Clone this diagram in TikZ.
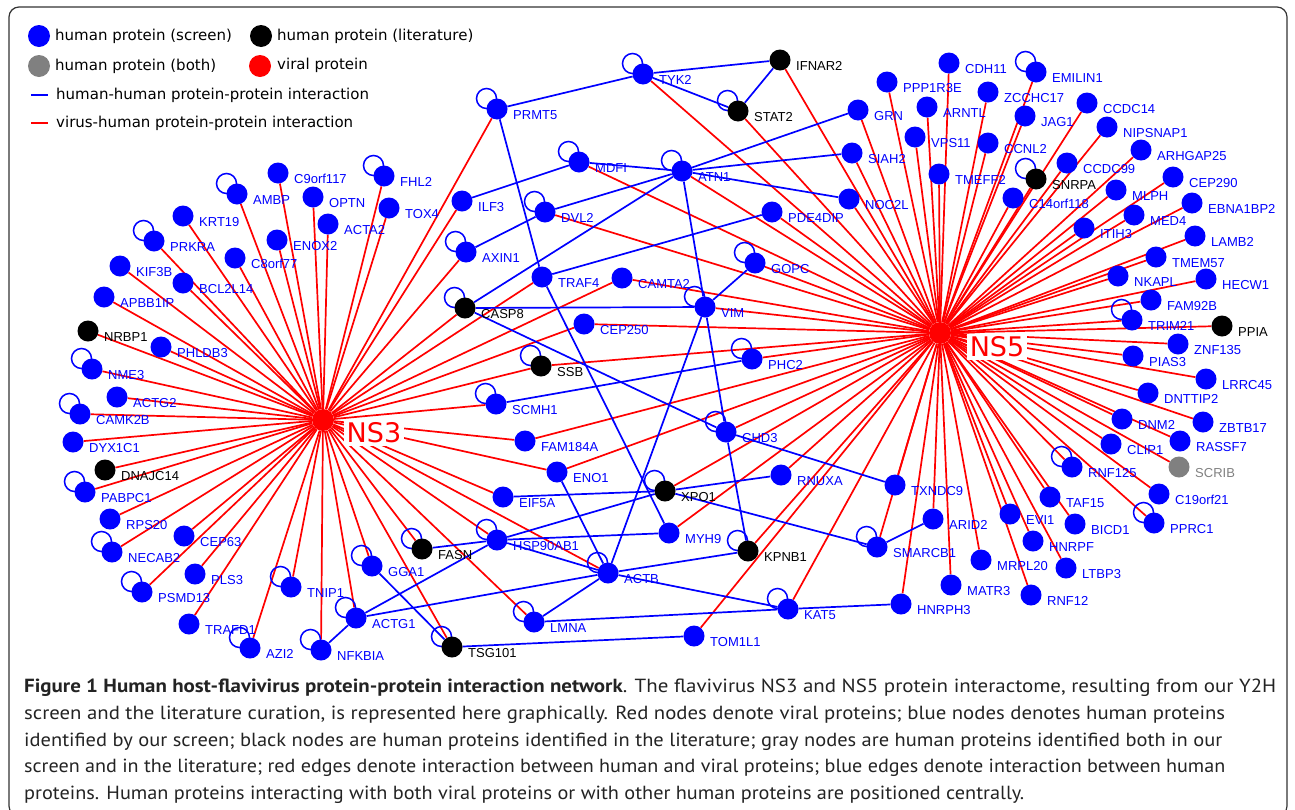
\documentclass[tikz,border=0pt]{standalone}
\usepackage{fontspec}
\usepackage{graphicx}
\newfontfamily\labfont{Liberation Sans}
\newfontfamily\legfont{DejaVu Sans}
\newfontfamily\capfont{PT Sans}
\pgfdeclarelayer{edges}
\pgfdeclarelayer{loops}
\pgfsetlayers{edges,loops,main}
\definecolor{midgray}{RGB}{128,128,128}
\definecolor{captxt}{RGB}{35,35,35}
\tikzset{
  hb/.style={circle, fill=blue, draw=none, minimum size=21pt, inner sep=0pt},
  hk/.style={hb, fill=black},
  hg/.style={hb, fill=midgray},
  vir/.style={circle, fill=red, draw=none, minimum size=22pt, inner sep=0pt},
  labhb/.style={anchor=west, inner sep=0pt, text=blue, font=\labfont\fontsize{13}{13}\selectfont},
  labhk/.style={labhb, text=black},
  labhg/.style={labhb, text=midgray},
  virlab/.style={fill=white, text=red, inner sep=3pt, font=\legfont\fontsize{27}{27}\selectfont},
  legtext/.style={anchor=west, inner sep=0pt, font=\legfont\fontsize{15}{15}\selectfont},
  captext/.style={anchor=base west, inner sep=0pt, text=captxt, font=\capfont\fontsize{19}{19}\selectfont},
  redE/.style={draw=red, line width=1.7pt},
  blueE/.style={draw=blue, line width=1.7pt},
  loopE/.style={draw=blue, line width=1.5pt},
}
\newcommand\hp[4]{\node[h#4] (#1) at (#2,#3) {};\node[labh#4] (l#1) at (#2+16,#3+6) {#1};}
\newcommand\lp[1]{\draw[loopE] ([shift={(-10.5,-10.5)}]#1.center) circle[radius=10pt];}
\begin{document}
\begin{tikzpicture}[x=1pt,y=-1pt]
\useasboundingbox (0,0) rectangle (1295,809);
\clip (0,0) rectangle (1295,809);
\draw[line width=1.2pt, black!80, rounded corners=10pt] (9,7) rectangle (1287,816);
% legend
\node[hb, minimum size=22pt] (lg1) at (39,36) {};
\node[legtext] (lt1) at (55,36) {human protein (screen)};
\node[hk, minimum size=22pt] (lg2) at (261,36) {};
\node[legtext] (lt2) at (277,36) {human protein (literature)};
\node[hg, minimum size=22pt] (lg3) at (39,66) {};
\node[legtext] (lt3) at (55,66) {human protein (both)};
\node[vir] (lg4) at (260,66) {};
\node[legtext] (lt4) at (277,65) {viral protein};
\coordinate (lb1) at (31,95); \coordinate (lb2) at (48,95);
\draw[blueE] (lb1) -- (lb2);
\node[legtext] (lt5) at (56,95) {human-human protein-protein interaction};
\coordinate (lr1) at (31,123); \coordinate (lr2) at (48,123);
\draw[redE] (lr1) -- (lr2);
\node[legtext] (lt6) at (56,123) {virus-human protein-protein interaction};
% viral hubs
\node[vir] (NS3) at (323,420) {};
\node[vir] (NS5) at (940,333) {};
% NS3 side
\hp{C9orf117}{278}{173}{b}
\hp{FHL2}{384}{176}{b}
\hp{AMBP}{237}{194}{b}
\hp{OPTN}{313}{197}{b}
\hp{TOX4}{389}{208}{b}
\hp{ACTA2}{328}{224}{b}
\hp{KRT19}{183}{216}{b}
\hp{PRKRA}{154}{241}{b}
\hp{ENOX2}{277}{240}{b}
\hp{C8orf77}{235}{258}{b}
\hp{KIF3B}{120}{266}{b}
\hp{BCL2L14}{183}{283}{b}
\hp{APBB1IP}{104}{297}{b}
\hp{NRBP1}{88}{331}{k}
\hp{PHLDB3}{161}{347}{b}
\hp{NME3}{92}{369}{b}
\hp{ACTG2}{117}{397}{b}
\hp{CAMK2B}{80}{414}{b}
\hp{DYX1C1}{73}{442}{b}
\hp{DNAJC14}{105}{470}{k}
\hp{PABPC1}{85}{492}{b}
\hp{RPS20}{110}{519}{b}
\hp{CEP63}{184}{536}{b}
\hp{NECAB2}{112}{552}{b}
\hp{PLS3}{195}{574}{b}
\hp{PSMD13}{142}{592}{b}
\hp{TNIP1}{291}{587}{b}
\hp{GGA1}{372}{566}{b}
\hp{TRAFD1}{189}{624}{b}
\hp{ACTG1}{356}{618}{b}
\hp{AZI2}{250}{648}{b}
\hp{NFKBIA}{321}{650}{b}
% central
\hp{TYK2}{643}{74}{b}
\hp{IFNAR2}{780}{60}{k}
\hp{PRMT5}{497}{109}{b}
\hp{STAT2}{738}{111}{k}
\hp{MDFI}{579}{162}{b}
\hp{ATN1}{682}{171}{b}
\hp{ILF3}{462}{201}{b}
\hp{DVL2}{545}{212}{b}
\hp{PDE4DIP}{772}{212}{b}
\hp{AXIN1}{466}{252}{b}
\hp{GOPC}{755}{263}{b}
\hp{TRAF4}{542}{277}{b}
\hp{CAMTA2}{622}{278}{b}
\hp{CASP8}{465}{308}{k}
\hp{VIM}{705}{307}{b}
\hp{CEP250}{584}{324}{b}
\hp{SSB}{541}{366}{k}
\hp{PHC2}{752}{359}{b}
\hp{SCMH1}{496}{404}{b}
\hp{CHD3}{726}{432}{b}
\hp{FAM184A}{525}{441}{b}
\hp{ENO1}{557}{472}{b}
\hp{RNUXA}{781}{475}{b}
\hp{XPO1}{665}{491}{k}
\hp{EIF5A}{503}{497}{b}
\hp{MYH9}{669}{533}{b}
\hp{HSP90AB1}{497}{540}{b}
\hp{FASN}{422}{549}{k}
\hp{KPNB1}{748}{551}{k}
\hp{ACTB}{608}{573}{b}
\hp{KAT5}{788}{609}{b}
\hp{LMNA}{534}{622}{b}
\hp{TOM1L1}{694}{636}{b}
\hp{TSG101}{452}{647}{k}
% NS5 side
\hp{CDH11}{949}{63}{b}
\hp{EMILIN1}{1036}{72}{b}
\hp{PPP1R3E}{887}{82}{b}
\hp{ZCCHC17}{988}{92}{b}
\hp{GRN}{858}{110}{b}
\hp{ARNTL}{927}{107}{b}
\hp{CCDC14}{1087}{103}{b}
\hp{JAG1}{1025}{116}{b}
\hp{NIPSNAP1}{1107}{127}{b}
\hp{VPS11}{915}{137}{b}
\hp{CCNL2}{988}{143}{b}
\hp{SIAH2}{852}{153}{b}
\hp{ARHGAP25}{1141}{150}{b}
\hp{CCDC99}{1067}{163}{b}
\hp{TMEFF2}{939}{174}{b}
\hp{SNRPA}{1036}{179}{k}
\hp{CEP290}{1173}{177}{b}
\hp{NOC2L}{849}{199}{b}
\hp{C14orf118}{1013}{198}{b}
\hp{MLPH}{1116}{190}{b}
\hp{EBNA1BP2}{1192}{203}{b}
\hp{MED4}{1134}{215}{b}
\hp{ITIH3}{1084}{228}{b}
\hp{LAMB2}{1195}{236}{b}
\hp{TMEM57}{1156}{257}{b}
\hp{NKAPL}{1118}{276}{b}
\hp{HECW1}{1206}{279}{b}
\hp{FAM92B}{1151}{300}{b}
\hp{TRIM21}{1132}{320}{b}
\hp{PPIA}{1222}{326}{k}
\hp{ZNF135}{1178}{344}{b}
\hp{PIAS3}{1133}{356}{b}
\hp{LRRC45}{1206}{379}{b}
\hp{DNTTIP2}{1148}{393}{b}
\hp{ZBTB17}{1203}{422}{b}
\hp{DNM2}{1122}{419}{b}
\hp{RASSF7}{1180}{441}{b}
\hp{CLIP1}{1111}{444}{b}
\hp{RNF125}{1072}{467}{b}
\hp{SCRIB}{1179}{467}{g}
\hp{TXNDC9}{895}{485}{b}
\hp{C19orf21}{1159}{494}{b}
\hp{TAF15}{1050}{497}{b}
\hp{EVI1}{1010}{514}{b}
\hp{ARID2}{933}{519}{b}
\hp{BICD1}{1075}{524}{b}
\hp{PPRC1}{1154}{523}{b}
\hp{SMARCB1}{877}{547}{b}
\hp{HNRPF}{1033}{541}{b}
\hp{MRPL20}{981}{560}{b}
\hp{LTBP3}{1066}{568}{b}
\hp{MATR3}{951}{585}{b}
\hp{RNF12}{1031}{595}{b}
\hp{HNRPH3}{901}{604}{b}
% hub labels
\node[virlab] (tNS3) at (374,433) {NS3};
\node[virlab] (tNS5) at (997,347) {NS5};
% edges
\begin{pgfonlayer}{edges}
\foreach \n in {C9orf117,FHL2,AMBP,OPTN,TOX4,ACTA2,KRT19,PRKRA,ENOX2,C8orf77,KIF3B,BCL2L14,APBB1IP,NRBP1,PHLDB3,NME3,ACTG2,CAMK2B,DYX1C1,DNAJC14,PABPC1,RPS20,CEP63,NECAB2,PLS3,PSMD13,TNIP1,GGA1,TRAFD1,ACTG1,AZI2,NFKBIA,PRMT5,ILF3,AXIN1,CASP8,TRAF4,CAMTA2,CEP250,SSB,SCMH1,FAM184A,ENO1,EIF5A,HSP90AB1,ACTB,LMNA,FASN,TSG101}
  {\draw[redE] (NS3) -- (\n);}
\foreach \n in {CDH11,EMILIN1,PPP1R3E,ZCCHC17,GRN,ARNTL,CCDC14,JAG1,NIPSNAP1,VPS11,CCNL2,SIAH2,ARHGAP25,CCDC99,TMEFF2,SNRPA,CEP290,NOC2L,C14orf118,MLPH,EBNA1BP2,MED4,ITIH3,LAMB2,TMEM57,NKAPL,HECW1,FAM92B,TRIM21,PPIA,ZNF135,PIAS3,LRRC45,DNTTIP2,ZBTB17,DNM2,RASSF7,CLIP1,RNF125,SCRIB,C19orf21,TAF15,EVI1,BICD1,PPRC1,HNRPF,MRPL20,LTBP3,MATR3,RNF12,HNRPH3,ARID2,SMARCB1,TXNDC9,TYK2,IFNAR2,STAT2,MDFI,ATN1,DVL2,PDE4DIP,GOPC,CAMTA2,VIM,CEP250,SSB,PHC2,FAM184A,ENO1,CHD3,RNUXA,XPO1,MYH9,KPNB1,KAT5,TOM1L1}
  {\draw[redE] (NS5) -- (\n);}
\foreach \a/\b in {PRMT5/TYK2,TYK2/IFNAR2,TYK2/STAT2,STAT2/IFNAR2,PRMT5/TRAF4,TRAF4/MYH9,ILF3/MDFI,MDFI/ATN1,ATN1/GRN,ATN1/SIAH2,ATN1/NOC2L,ATN1/DVL2,ATN1/CASP8,DVL2/AXIN1,ATN1/VIM,TRAF4/PDE4DIP,CASP8/VIM,VIM/GOPC,CASP8/CHD3,CHD3/TXNDC9,VIM/CHD3,CHD3/KPNB1,VIM/ACTB,ENO1/ACTB,HSP90AB1/ACTB,LMNA/ACTB,ACTG1/ACTB,ACTB/KPNB1,ACTG1/HSP90AB1,HSP90AB1/XPO1,ACTG1/NFKBIA,GGA1/TSG101,FASN/HSP90AB1,HSP90AB1/MYH9,EIF5A/XPO1,XPO1/RNUXA,XPO1/SMARCB1,SCMH1/PHC2,KAT5/HNRPH3,ACTB/KAT5,LMNA/KAT5,SMARCB1/ARID2,TSG101/TOM1L1}
  {\draw[blueE] (\a) -- (\b);}
\end{pgfonlayer}
\begin{pgfonlayer}{loops}
\foreach \n in {FHL2,AMBP,PRKRA,NME3,CAMK2B,PABPC1,NECAB2,PSMD13,TNIP1,GGA1,ACTG1,AZI2,NFKBIA,TYK2,PRMT5,STAT2,MDFI,ATN1,DVL2,AXIN1,GOPC,CASP8,VIM,SSB,SCMH1,PHC2,CHD3,XPO1,HSP90AB1,FASN,KPNB1,ACTB,KAT5,LMNA,TSG101,EMILIN1,SNRPA,TRIM21,RNF125,PPRC1,SMARCB1}
  {\lp{\n}}
\end{pgfonlayer}
% caption
\node[captext] (c1) at (24,692) {\resizebox{1252pt}{\height}{\textbf{Figure 1 Human host-flavivirus protein-protein interaction network}. The flavivirus NS3 and NS5 protein interactome, resulting from our Y2H}};
\node[captext] (c2) at (24,719) {\resizebox{1201pt}{\height}{screen and the literature curation, is represented here graphically. Red nodes denote viral proteins; blue nodes denotes human proteins}};
\node[captext] (c3) at (24,746) {\resizebox{1198pt}{\height}{identified by our screen; black nodes are human proteins identified in the literature; gray nodes are human proteins identified both in our}};
\node[captext] (c4) at (24,772) {\resizebox{1201pt}{\height}{screen and in the literature; red edges denote interaction between human and viral proteins; blue edges denote interaction between human}};
\node[captext] (c5) at (24,799) {\resizebox{1000pt}{\height}{proteins. Human proteins interacting with both viral proteins or with other human proteins are positioned centrally.}};
\end{tikzpicture}
\end{document}
